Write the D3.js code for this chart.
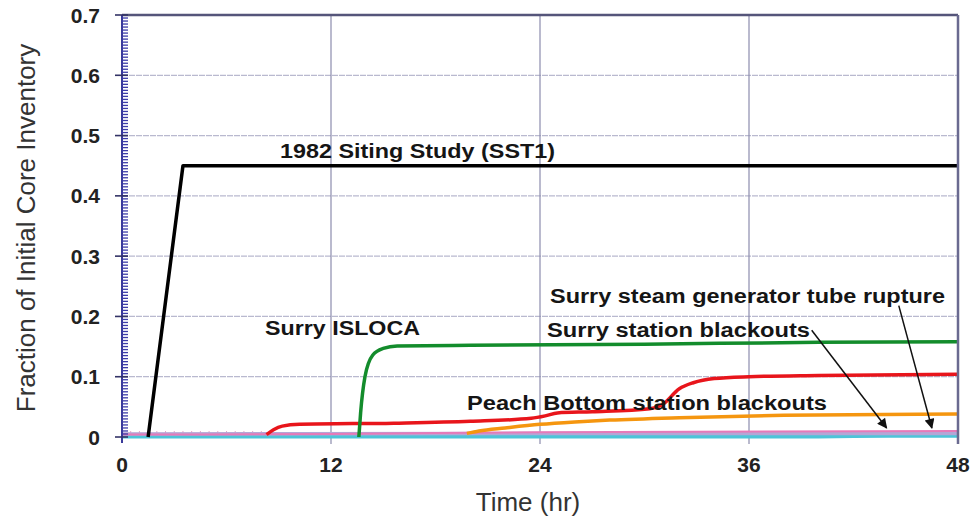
<!DOCTYPE html>
<html>
<head>
<meta charset="utf-8">
<script src="https://cdn.jsdelivr.net/npm/d3@7"></script>
<style>
  body { margin: 0; background: #fff; }
  svg { display: block; font-family: "Liberation Sans", Arial, sans-serif; }
</style>
</head>
<body>
<svg id="chart" width="973" height="518"></svg>
<script>
const W = 973, H = 518;
const M = { left: 122, top: 15, right: 15, bottom: 81 };

const xTicks = [0, 12, 24, 36, 48];
const yTicks = [0, 0.1, 0.2, 0.3, 0.4, 0.5, 0.6, 0.7];

// curves: [hour, fraction]
const sst1 = [[1.5, 0], [3.5, 0.45], [48, 0.45]];
const isloca = [[13.6, 0], [13.7, 0.04], [13.95, 0.1], [14.4, 0.136], [15, 0.147], [15.8, 0.151], [20, 0.152], [30, 0.154], [40, 0.157], [48, 0.158]];
const surrySbo = [[8.3, 0.004], [8.7, 0.012], [9.2, 0.018], [10.2, 0.021], [15.6, 0.023], [20, 0.026], [23.5, 0.031], [24.3, 0.035], [25, 0.04], [27, 0.042], [30.3, 0.047], [31, 0.053], [32, 0.08], [32.8, 0.09], [34, 0.097], [36, 0.1], [40, 0.102], [48, 0.104]];
const peachSbo = [[19.8, 0.006], [20.5, 0.01], [22, 0.015], [24, 0.021], [26, 0.025], [28, 0.028], [32, 0.032], [38, 0.036], [48, 0.038]];
const lowPink = [[0, 0.004], [12, 0.005], [24, 0.008], [48, 0.01]];
const lowLavender = [[0, 0.005], [24, 0.006], [48, 0.006]];
const lowCyan = [[0, 0.001], [40, 0.001], [44, 0.002], [48, 0.002]];

const series = [
  { data: lowCyan, color: "#4cc4d8", width: 4 },
  { data: lowLavender, color: "#b4a6d6", width: 3.5 },
  { data: lowPink, color: "#e67ab8", width: 2 },
  { data: peachSbo, color: "#f5960f", width: 3.5 },
  { data: surrySbo, color: "#e8151b", width: 3.5 },
  { data: isloca, color: "#138c2c", width: 3.5 },
  { data: sst1, color: "#000000", width: 3.5 },
];

const labels = [
  { text: "1982 Siting Study (SST1)", x: 280, y: 158, len: 275 },
  { text: "Surry ISLOCA", x: 265, y: 335, len: 155 },
  { text: "Surry steam generator tube rupture", x: 550, y: 303, len: 395 },
  { text: "Surry station blackouts", x: 547, y: 337, len: 263 },
  { text: "Peach Bottom station blackouts", x: 467, y: 410, len: 360 },
];

// arrows: [label end (hr, frac), tip (hr, frac)]
const arrows = [
  [[39.6, 0.177], [43.9, 0.015]],
  [[44.6, 0.218], [46.5, 0.015]],
];

const svg = d3.select("#chart");
const iw = W - M.left - M.right, ih = H - M.top - M.bottom;

const x = d3.scaleLinear().domain([0, 48]).range([0, iw]);
const y = d3.scaleLinear().domain([0, 0.7]).range([ih, 0]);

const g = svg.append("g").attr("transform", `translate(${M.left},${M.top})`);

svg.append("defs").append("marker")
  .attr("id", "arrow")
  .attr("viewBox", "0 0 10 10")
  .attr("refX", 9).attr("refY", 5)
  .attr("markerWidth", 13).attr("markerHeight", 10)
  .attr("markerUnits", "userSpaceOnUse")
  .attr("orient", "auto")
  .append("path").attr("d", "M0,0 L10,5 L0,10 z").attr("fill", "#111");

// horizontal grid
g.selectAll(".hgrid")
  .data(yTicks.filter((d) => d > 0 && d < 0.7))
  .join("line")
  .attr("x1", 0).attr("x2", iw)
  .attr("y1", (d) => y(d)).attr("y2", (d) => y(d))
  .attr("stroke", "#b9b9cf").attr("stroke-width", 1.2)
  .attr("stroke-dasharray", "6,1");

// vertical grid (drawn slightly past the bottom like ticks)
g.selectAll(".vgrid")
  .data(xTicks.filter((d) => d > 0 && d < 48))
  .join("line")
  .attr("x1", (d) => x(d)).attr("x2", (d) => x(d))
  .attr("y1", 0).attr("y2", ih + 7)
  .attr("stroke", "#8c8cad").attr("stroke-width", 1.2);

// pink minor ticks along the bottom near the origin
g.selectAll(".pinktick")
  .data(d3.range(1, 18).map((i) => i * 0.5))
  .join("line")
  .attr("x1", (d) => x(d)).attr("x2", (d) => x(d))
  .attr("y1", ih - 2).attr("y2", ih - 6)
  .attr("stroke", "#e8a0c8").attr("stroke-width", 1);

// series
const line = d3.line().x((d) => x(d[0])).y((d) => y(d[1])).curve(d3.curveMonotoneX);
const straight = d3.line().x((d) => x(d[0])).y((d) => y(d[1]));

g.selectAll(".series")
  .data(series)
  .join("path")
  .attr("fill", "none")
  .attr("stroke", (d) => d.color)
  .attr("stroke-width", (d) => d.width)
  .attr("stroke-linejoin", "round")
  .attr("d", (d) => (d.data === sst1 ? straight(d.data) : line(d.data)));

// frame: top and right
g.append("line").attr("x1", 0).attr("x2", iw).attr("y1", 0).attr("y2", 0)
  .attr("stroke", "#55557a").attr("stroke-width", 2.5);
g.append("line").attr("x1", iw).attr("x2", iw).attr("y1", 0).attr("y2", ih + 7)
  .attr("stroke", "#6a6a90").attr("stroke-width", 2.5);

// y axis, blue with dense minor ticks
const yAxis = g.append("g");
yAxis.append("line").attr("x1", 0).attr("x2", 0).attr("y1", 0).attr("y2", ih + 6)
  .attr("stroke", "#3a3a9a").attr("stroke-width", 2);
yAxis.selectAll(".minor")
  .data(d3.range(1, 140).map((i) => i * 0.005))
  .join("line")
  .attr("x1", 0).attr("x2", 6)
  .attr("y1", (d) => y(d)).attr("y2", (d) => y(d))
  .attr("stroke", "#3c3ca8").attr("stroke-width", 1.3);
yAxis.selectAll(".major")
  .data(yTicks)
  .join("line")
  .attr("x1", -7).attr("x2", 6)
  .attr("y1", (d) => y(d)).attr("y2", (d) => y(d))
  .attr("stroke", "#333366").attr("stroke-width", 1.6);
yAxis.selectAll("text")
  .data(yTicks)
  .join("text")
  .attr("x", -22).attr("y", (d) => y(d))
  .attr("dy", "0.36em")
  .attr("text-anchor", "end")
  .attr("font-size", 21).attr("font-weight", "bold").attr("fill", "#222")
  .text((d) => (d === 0 ? "0" : d3.format(".1f")(d)));

// x axis labels
g.selectAll(".xlab")
  .data(xTicks)
  .join("text")
  .attr("x", (d) => x(d)).attr("y", ih + 35)
  .attr("text-anchor", "middle")
  .attr("font-size", 21).attr("font-weight", "bold").attr("fill", "#222")
  .text((d) => d);

// axis titles
svg.append("text")
  .attr("x", 528).attr("y", 511)
  .attr("text-anchor", "middle")
  .attr("font-size", 26).attr("fill", "#333")
  .text("Time (hr)");
svg.append("text")
  .attr("transform", "translate(35,228) rotate(-90)")
  .attr("text-anchor", "middle")
  .attr("font-size", 26).attr("fill", "#333")
  .text("Fraction of Initial Core Inventory");

// annotations, stretched to the widths seen in the picture
svg.selectAll(".ann")
  .data(labels)
  .join("text")
  .attr("x", (d) => d.x).attr("y", (d) => d.y)
  .attr("font-size", 20).attr("font-weight", "bold").attr("fill", "#151515")
  .attr("textLength", (d) => d.len)
  .attr("lengthAdjust", "spacingAndGlyphs")
  .text((d) => d.text);

g.selectAll(".arrow")
  .data(arrows)
  .join("line")
  .attr("x1", (d) => x(d[0][0])).attr("y1", (d) => y(d[0][1]))
  .attr("x2", (d) => x(d[1][0])).attr("y2", (d) => y(d[1][1]))
  .attr("stroke", "#111").attr("stroke-width", 1.5)
  .attr("marker-end", "url(#arrow)");
</script>
</body>
</html>
